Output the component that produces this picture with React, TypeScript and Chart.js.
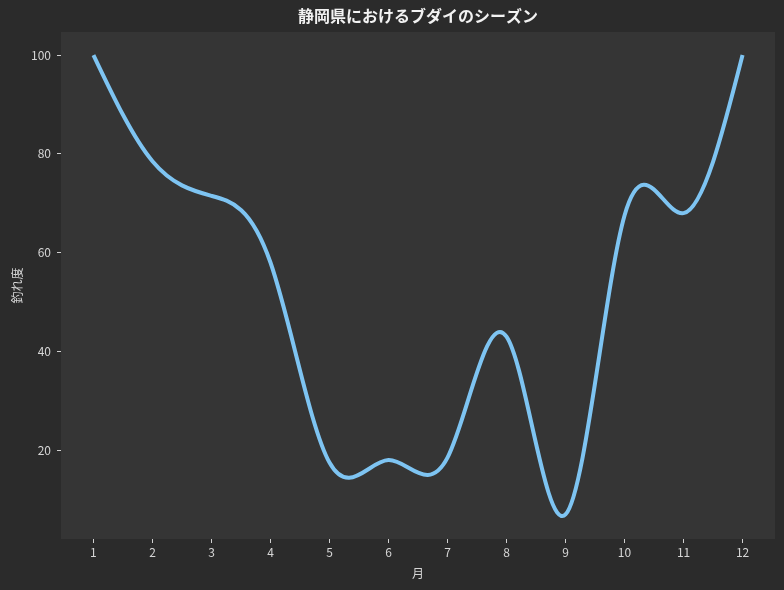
import { useEffect, useRef } from "react";
import { Chart, registerables } from "chart.js";

Chart.register(...registerables);

const months = [1, 2, 3, 4, 5, 6, 7, 8, 9, 10, 11, 12];
const catchIndex = [100, 78.5, 71.5, 58, 17.5, 18, 18.5, 43, 7, 67.5, 68, 100];
const yTicks = [20, 40, 60, 80, 100];
const TITLE = "静岡県におけるブダイのシーズン";
const X_LABEL = "月";
const Y_LABEL = "釣れ度";

const FONT = "'Noto Sans CJK JP', 'Noto Sans', sans-serif";
const OUTER_BG = "#2b2b2b";
const PLOT_BG = "#353535";
const LINE_COLOR = "#7ec4f2";
const TEXT_COLOR = "#d6d6d6";

// natural cubic spline slopes at knots
function splineSlopes(xs: number[], ys: number[]): number[] {
  const n = xs.length;
  const h = (i: number) => xs[i + 1] - xs[i];
  const A: number[][] = Array.from({ length: n }, () => new Array(n).fill(0));
  const b: number[] = new Array(n).fill(0);
  for (let i = 1; i < n - 1; i++) {
    A[i][i - 1] = h(i - 1);
    A[i][i] = 2 * (h(i - 1) + h(i));
    A[i][i + 1] = h(i);
    b[i] = 6 * ((ys[i + 1] - ys[i]) / h(i) - (ys[i] - ys[i - 1]) / h(i - 1));
  }
  A[0][0] = 1;
  A[n - 1][n - 1] = 1;
  for (let c = 0; c < n; c++) {
    let p = c;
    for (let r = c + 1; r < n; r++) if (Math.abs(A[r][c]) > Math.abs(A[p][c])) p = r;
    [A[c], A[p]] = [A[p], A[c]];
    [b[c], b[p]] = [b[p], b[c]];
    for (let r = c + 1; r < n; r++) {
      const f = A[r][c] / A[c][c];
      if (f === 0) continue;
      for (let k = c; k < n; k++) A[r][k] -= f * A[c][k];
      b[r] -= f * b[c];
    }
  }
  const M: number[] = new Array(n).fill(0);
  for (let r = n - 1; r >= 0; r--) {
    let s = b[r];
    for (let k = r + 1; k < n; k++) s -= A[r][k] * M[k];
    M[r] = s / A[r][r];
  }
  const m: number[] = [];
  for (let i = 0; i < n - 1; i++) {
    m.push((ys[i + 1] - ys[i]) / h(i) - (h(i) * (2 * M[i] + M[i + 1])) / 6);
  }
  const l = n - 2;
  m.push((ys[n - 1] - ys[l]) / h(l) + (h(l) * (M[l] + 2 * M[n - 1])) / 6);
  return m;
}

const splinePlugin = {
  id: "splineCurve",
  beforeDatasetDraw(chart: any, args: any) {
    const meta = chart.getDatasetMeta(args.index);
    const xs = chart.scales.x;
    const ys = chart.scales.y;
    const slopes = splineSlopes(months, catchIndex);
    const n = months.length;
    meta.data.forEach((pt: any, i: number) => {
      const x = months[i];
      const y = catchIndex[i];
      const s = slopes[i];
      const dl = i > 0 ? (months[i] - months[i - 1]) / 3 : 1 / 3;
      const dr = i < n - 1 ? (months[i + 1] - months[i]) / 3 : 1 / 3;
      pt.cp1x = xs.getPixelForValue(x - dl);
      pt.cp1y = ys.getPixelForValue(y - s * dl);
      pt.cp2x = xs.getPixelForValue(x + dr);
      pt.cp2y = ys.getPixelForValue(y + s * dr);
    });
    if (meta.dataset) (meta.dataset as any)._pointsUpdated = true;
  },
};

const backgroundPlugin = {
  id: "bgPlugin",
  beforeDraw(chart: any) {
    const { ctx, chartArea } = chart;
    ctx.save();
    ctx.fillStyle = OUTER_BG;
    ctx.fillRect(0, 0, chart.width, chart.height);
    ctx.fillStyle = PLOT_BG;
    ctx.fillRect(chartArea.left, chartArea.top, chartArea.right - chartArea.left, chartArea.bottom - chartArea.top);
    ctx.restore();
  },
  afterDraw(chart: any) {
    const { ctx, chartArea } = chart;
    ctx.save();
    ctx.fillStyle = "#f2f2f2";
    ctx.font = `bold 16px ${FONT}`;
    ctx.textAlign = "center";
    ctx.textBaseline = "middle";
    ctx.fillText(TITLE, (chartArea.left + chartArea.right) / 2, 16);
    ctx.restore();
  },
};

export default function App() {
  const ref = useRef<HTMLCanvasElement | null>(null);
  useEffect(() => {
    if (!ref.current) return;
    const chart = new Chart(ref.current, {
      type: "line",
      data: {
        datasets: [
          {
            data: months.map((m, i) => ({ x: m, y: catchIndex[i] })),
            borderColor: LINE_COLOR,
            borderWidth: 4,
            pointRadius: 0,
            pointHoverRadius: 0,
            tension: 0.4,
            fill: false,
          },
        ],
      },
      options: {
        animation: false,
        responsive: false,
        maintainAspectRatio: false,
        events: [],
        layout: { padding: { top: 32, right: 9, left: 0, bottom: 0 } },
        plugins: { legend: { display: false }, tooltip: { enabled: false }, title: { display: false } },
        scales: {
          x: {
            type: "linear",
            min: 0.45,
            max: 12.55,
            afterBuildTicks: (scale: any) => {
              scale.ticks = months.map((v) => ({ value: v }));
            },
            afterFit: (scale: any) => {
              scale.height = 51;
            },
            grid: { display: true, drawOnChartArea: false, drawTicks: true, tickLength: 4, color: "#d0d0d0" },
            border: { display: false },
            ticks: { color: TEXT_COLOR, font: { family: FONT, size: 12 }, padding: 2, maxRotation: 0, autoSkip: false, callback: (v: any) => String(v) },
            title: { display: true, text: X_LABEL, color: TEXT_COLOR, font: { family: FONT, size: 12 }, padding: { top: 4, bottom: 9 } },
          },
          y: {
            type: "linear",
            min: 2.03,
            max: 104.66,
            afterBuildTicks: (scale: any) => {
              scale.ticks = yTicks.map((v) => ({ value: v }));
            },
            afterFit: (scale: any) => {
              scale.width = 61;
            },
            grid: { display: true, drawOnChartArea: false, drawTicks: true, tickLength: 4, color: "#d0d0d0" },
            border: { display: false },
            ticks: { color: TEXT_COLOR, font: { family: FONT, size: 12 }, padding: 6, callback: (v: any) => String(v) },
            title: { display: true, text: Y_LABEL, color: TEXT_COLOR, font: { family: FONT, size: 12 }, padding: { top: 10, bottom: 4 } },
          },
        },
      },
      plugins: [backgroundPlugin, splinePlugin],
    } as any);
    return () => chart.destroy();
  }, []);
  return (
    <div style={{ position: "fixed", left: 0, top: 0, width: 784, height: 590 }}>
      <canvas ref={ref} width={784} height={590} style={{ display: "block" }} />
    </div>
  );
}
